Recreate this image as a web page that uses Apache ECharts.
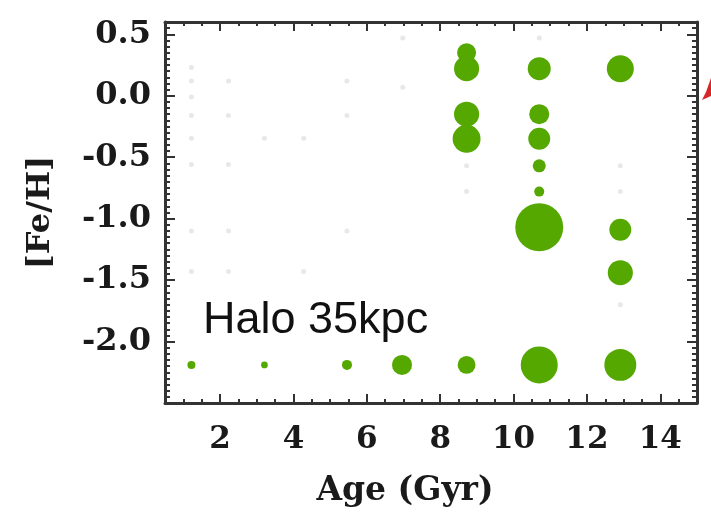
<!DOCTYPE html>
<html><head><meta charset="utf-8">
<script src="https://cdn.jsdelivr.net/npm/echarts@6/dist/echarts.min.js"></script>
<style>html,body{margin:0;padding:0;background:#fff}#c{width:711px;height:526px}</style>
</head><body><div id="c"></div>
<script>
// Tick labels
const xTickLabels = [2, 4, 6, 8, 10, 12, 14];
const yTickLabels = [-2.0, -1.5, -1.0, -0.5, 0.0, 0.5];

// Green bubbles: age (Gyr), [Fe/H], relative weight (area)
const ageGyr = [8.72, 8.72, 8.72, 8.72, 10.70, 10.70, 10.70, 10.70, 10.70, 10.70, 12.91, 12.91, 12.91,
                1.22, 3.21, 5.46, 6.96, 8.72, 10.70, 12.91];
const feH    = [0.35, 0.22, -0.15, -0.35, 0.22, -0.15, -0.35, -0.57, -0.78, -1.07, 0.22, -1.09, -1.44,
                -2.19, -2.19, -2.19, -2.19, -2.19, -2.19, -2.19];
const weight = [3.6, 6.3, 6.3, 7.8, 5.3, 4.0, 4.8, 1.7, 1.0, 23.0, 7.3, 4.8, 6.3,
                0.64, 0.45, 1.0, 4.0, 3.2, 13.7, 10.2];

// Faint grey background points
const faintAge = [1.22, 1.22, 1.22, 1.22, 1.22, 1.22, 1.22, 1.22, 2.23, 2.23, 2.23, 2.23, 2.23,
                  3.21, 4.28, 4.28, 5.46, 5.46, 5.46, 6.98, 6.98, 8.72, 8.72, 12.91, 12.91, 12.91, 10.70];
const faintFeH = [0.23, 0.12, -0.01, -0.16, -0.345, -0.56, -1.10, -1.43, 0.12, -0.16, -0.56, -1.10, -1.43,
                  -0.345, -0.345, -1.43, 0.12, -0.16, -1.10, 0.47, 0.07, -0.57, -0.78, -0.57, -0.78, -1.70, 0.47];

const bubbles = ageGyr.map((a, i) => [a, feH[i], weight[i]]);
const faint = faintAge.map((a, i) => [a, faintFeH[i]]);

const axisColor = '#333';
const labelFont = {fontFamily: 'DejaVu Serif', fontWeight: 'bold', fontSize: 31, color: '#1a1a1a'};
const minorTicks = (pos, interval, min, max, len) => ({
  type: 'value', min: min, max: max, interval: interval, position: pos,
  axisLine: {show: true, onZero: false, lineStyle: {color: axisColor, width: 3}},
  axisTick: {show: true, inside: true, length: len, lineStyle: {color: axisColor, width: 2}},
  axisLabel: {show: false}, splitLine: {show: false}
});
const majorTicks = (pos, min, max, len, vals, label) => ({
  type: 'value', min: min, max: max, position: pos,
  axisLine: {show: false, onZero: false},
  axisTick: {show: true, inside: true, length: len, customValues: vals, lineStyle: {color: axisColor, width: 2}},
  axisLabel: label || {show: false}, splitLine: {show: false}
});

const chart = echarts.init(document.getElementById('c'));
chart.setOption({
  animation: false,
  backgroundColor: '#fff',
  grid: {left: 165, right: 14, top: 22, bottom: 123},
  xAxis: [
    Object.assign(minorTicks('bottom', 0.5, 0.5, 15, 4), {
      name: 'Age (Gyr)', nameLocation: 'middle', nameGap: 72,
      nameTextStyle: Object.assign({}, labelFont, {fontSize: 33, padding: [0, 52, 0, 0]})
    }),
    majorTicks('bottom', 0.5, 15, 9, xTickLabels,
      Object.assign({show: true, customValues: xTickLabels, margin: 21, formatter: v => String(v)}, labelFont)),
    minorTicks('top', 0.5, 0.5, 15, 4),
    majorTicks('top', 0.5, 15, 9, xTickLabels)
  ],
  yAxis: [
    Object.assign(minorTicks('left', 0.05, -2.5, 0.6, 5), {
      name: '[Fe/H]', nameLocation: 'middle', nameGap: 108, nameRotate: 90,
      nameTextStyle: Object.assign({}, labelFont, {fontSize: 32})
    }),
    majorTicks('left', -2.5, 0.6, 10, yTickLabels,
      Object.assign({show: true, customValues: yTickLabels, margin: 14, formatter: v => v.toFixed(1)},
                    labelFont, {fontSize: 32})),
    minorTicks('right', 0.05, -2.5, 0.6, 5),
    majorTicks('right', -2.5, 0.6, 10, yTickLabels)
  ],
  series: [
    {type: 'scatter', xAxisIndex: 0, yAxisIndex: 0, data: faint, symbolSize: 5,
     itemStyle: {color: 'rgba(110,110,110,0.2)'}, silent: true},
    {type: 'scatter', xAxisIndex: 0, yAxisIndex: 0, data: bubbles,
     symbolSize: v => 10 * Math.sqrt(v[2]),
     itemStyle: {color: '#54a800', opacity: 1}}
  ],
  graphic: [
    {type: 'text', left: 203, top: 298, z: 10,
     style: {text: 'Halo 35kpc', fontFamily: 'Liberation Sans', fontSize: 45, fill: '#111'}},
    {type: 'polygon', z: 10, shape: {points: [[711, 78], [711, 96], [702, 100], [706, 92]]},
     style: {fill: '#d8262b'}}
  ]
});
</script></body></html>
